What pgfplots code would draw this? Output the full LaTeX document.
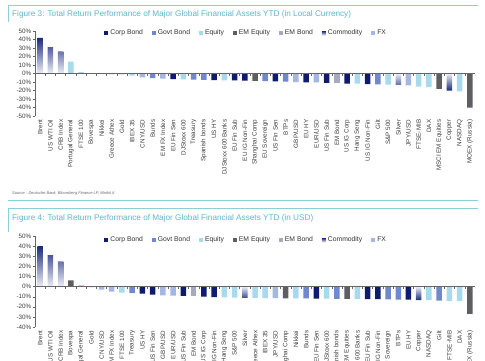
\documentclass[border=0pt]{standalone}
\usepackage{pgfplots}
\pgfplotsset{compat=1.18}
\usepackage{fontspec}
\setmainfont{Liberation Sans}
\definecolor{corp}{HTML}{0F1C6E}
\definecolor{govt}{HTML}{7088D0}
\definecolor{equity}{HTML}{A8DAEE}
\definecolor{emeq}{HTML}{5E5E62}
\definecolor{embond}{HTML}{A7A9BE}
\definecolor{comm}{HTML}{1B2A80}
\definecolor{fx}{HTML}{A4B6E4}
\definecolor{tealt}{HTML}{5FB7CB}
\definecolor{tealline}{HTML}{8ACFD9}
\pgfplotsset{
  mychart/.style={
    scale only axis, width=440pt, anchor=north west,
    ybar, bar width=5.5pt, bar shift=0pt,
    xmin=-0.5, xmax=42.5,
    axis lines*=left,
    x axis line style={draw=none},
    y axis line style={draw=black!60},
    xtick={0,...,42}, xtick style={draw=none},
    xticklabel style={rotate=90, anchor=east, font=\fontsize{6.3}{7}\selectfont, text=black!75, inner sep=1.5pt},
    yticklabel style={font=\fontsize{6.3}{7}\selectfont, text=black!75, inner sep=1.5pt},
    ytick style={draw=black!60},
    tick align=outside, major tick length=2pt,
    yticklabel={\pgfmathprintnumber{\tick}\%},
    /pgf/number format/assume math mode=true,
    legend columns=7,
    legend style={draw=none, fill=none, font=\fontsize{6.8}{7}\selectfont, text=black!80,
      /tikz/every even column/.append style={column sep=7pt}, inner sep=0pt},
    legend image code/.code={\path[##1, draw=none] (0pt,-2pt) rectangle (4pt,2pt);},
  }
}
\begin{document}
\begin{tikzpicture}
\useasboundingbox (0pt,0pt) rectangle (485pt,-360pt);
\fill[white] (0pt,0pt) rectangle (485pt,-360pt);
% frames
\draw[tealline, line width=0.9pt] (8pt,-5pt) -- (478pt,-5pt);
\draw[tealline, line width=0.6pt] (8pt,-5pt) -- (8pt,-22pt);
\node[anchor=west, text=tealt, font=\fontsize{8.2}{9}\selectfont, inner sep=0pt] at (12pt,-14pt) {Figure 3: Total Return Performance of Major Global Financial Assets YTD (in Local Currency)};
\node[anchor=west, text=black!60, font=\fontsize{4}{5}\selectfont\itshape, inner sep=0pt] at (12pt,-193pt) {Source : Deutsche Bank, Bloomberg Finance LP, Markit It};
\draw[tealline, line width=0.9pt] (8pt,-200pt) -- (478pt,-200pt);
\draw[tealline, line width=0.6pt] (8pt,-208pt) -- (478pt,-208pt);
\draw[tealline, line width=0.6pt] (8pt,-208pt) -- (8pt,-232pt);
\node[anchor=west, text=tealt, font=\fontsize{8.2}{9}\selectfont, inner sep=0pt] at (12pt,-218pt) {Figure 4: Total Return Performance of Major Global Financial Assets YTD (in USD)};

% ---------- Figure 3 ----------
\begin{axis}[mychart, at={(35pt,-31pt)}, height=85pt,
  ymin=-50, ymax=50, ytick={-50,-40,...,50},
  legend style={at={(0.48,0.975)}, anchor=center},
  xticklabels={Brent, US WTI Oil, CRB Index, Portugal General, FTSE 100, Bovespa, Nikkei, Greece Athex, Gold, IBEX 35, CNY/USD, Bunds, EM FX Index, EU Fin Sen, DJStoxx 600, Treasury, Spanish bonds, US HY, DJStoxx 600 Banks, EU Fin Sub, EU IG Non-Fin, Shanghai Comp, EU Sovereign, US Fin Sen, BTPs, GBP/USD, EU HY, EUR/USD, US Fin Sub, EM Bond, US IG Corp, Hang Seng, US IG Non-Fin, Gilt, S\&P 500, Silver, JPY/USD, FTSE-MIB, DAX, MSCI EM Equities, Copper, NASDAQ, MOEX (Russia)}]
\addplot[fill=corp, draw=none] coordinates {(13,-6.5) (17,-7.8) (19,-8.2) (20,-8.5) (23,-9.3) (26,-10.3) (28,-11) (30,-11.8) (32,-12.5)};
\addlegendentry{Corp Bond}
\addplot[fill=govt, draw=none] coordinates {(11,-5.5) (15,-7.2) (16,-7.5) (22,-9) (24,-9.5) (33,-12.8)};
\addlegendentry{Govt Bond}
\addplot[fill=equity, draw=none] coordinates {(3,14) (4,1.5) (6,-0.6) (7,-1) (9,-2.5) (14,-7) (18,-8) (31,-12) (34,-13) (37,-15.5) (38,-16) (41,-21)};
\addlegendentry{Equity}
\addplot[fill=emeq, draw=none] coordinates {(5,-0.3) (21,-8.7) (39,-18) (42,-40)};
\addlegendentry{EM Equity}
\addplot[fill=embond, draw=none] coordinates {(29,-11.3)};
\addlegendentry{EM Bond}
\addplot[draw=none, top color=comm, bottom color=comm!8] coordinates {(0,42) (1,31) (2,26)};
\addlegendentry{Commodity}
\addplot[fill=fx, draw=none] coordinates {(10,-4.5) (12,-6) (25,-10) (27,-10.5) (36,-14)};
\addlegendentry{FX}
\addplot[draw=none, top color=comm!8, bottom color=comm, forget plot] coordinates {(8,-2) (35,-13.5) (40,-20)};
\draw[black!60] (axis cs:-0.5,0) -- (axis cs:42.5,0);
\pgfplotsinvokeforeach{0,...,43}{\draw[black!60] (axis cs:{#1-0.5},0) -- ++(0pt,-2pt);}
\end{axis}

% ---------- Figure 4 ----------
\begin{axis}[mychart, at={(35pt,-236pt)}, height=91pt,
  ymin=-40, ymax=50, ytick={-40,-30,...,50},
  legend style={at={(0.48,0.956)}, anchor=center},
  xticklabels={Brent, US WTI Oil, CRB Index, Bovespa, Portugal General, Gold, CNY/USD, EM FX Index, FTSE 100, Treasury, US HY, US Fin Sen, GBP/USD, EUR/USD, US Fin Sub, EM Bond, US IG Corp, US IG Non-Fin, Hang Seng, S\&P 500, Silver, Greece Athex, IBEX 35, JPY/USD, Shanghai Comp, Nikkei, Bunds, EU Fin Sen, DJStoxx 600, Spanish bonds, MSCI EM Equities, DJStoxx 600 Banks, EU Fin Sub, EU IG Non-Fin, EU Sovereign, BTPs, EU HY, Copper, NASDAQ, Gilt, FTSE-MIB, DAX, MOEX (Russia)}]
\addplot[fill=corp, draw=none] coordinates {(10,-7) (11,-8) (14,-9.3) (16,-10) (17,-10.5) (27,-11.9) (32,-12.4) (33,-12.5) (36,-13)};
\addlegendentry{Corp Bond}
\addplot[fill=govt, draw=none] coordinates {(9,-6.5) (26,-11.8) (29,-12.1) (34,-12.6) (35,-12.8) (39,-13.8)};
\addlegendentry{Govt Bond}
\addplot[fill=equity, draw=none] coordinates {(4,1.5) (8,-6) (18,-10.7) (19,-11) (21,-11.3) (22,-11.4) (25,-11.7) (28,-12) (31,-12.3) (38,-13.5) (40,-14.2) (41,-14.5)};
\addlegendentry{Equity}
\addplot[fill=emeq, draw=none] coordinates {(3,6) (24,-11.6) (30,-12.2) (42,-27)};
\addlegendentry{EM Equity}
\addplot[fill=embond, draw=none] coordinates {(15,-9.5)};
\addlegendentry{EM Bond}
\addplot[draw=none, top color=comm, bottom color=comm!8] coordinates {(0,40) (1,31) (2,25)};
\addlegendentry{Commodity}
\addplot[fill=fx, draw=none] coordinates {(6,-3) (7,-5) (12,-8.8) (13,-9) (23,-11.5)};
\addlegendentry{FX}
\addplot[draw=none, top color=comm!8, bottom color=comm, forget plot] coordinates {(5,-1) (20,-11.2) (37,-13.3)};
\draw[black!60] (axis cs:-0.5,0) -- (axis cs:42.5,0);
\pgfplotsinvokeforeach{0,...,43}{\draw[black!60] (axis cs:{#1-0.5},0) -- ++(0pt,-2pt);}
\end{axis}
\end{tikzpicture}
\end{document}
